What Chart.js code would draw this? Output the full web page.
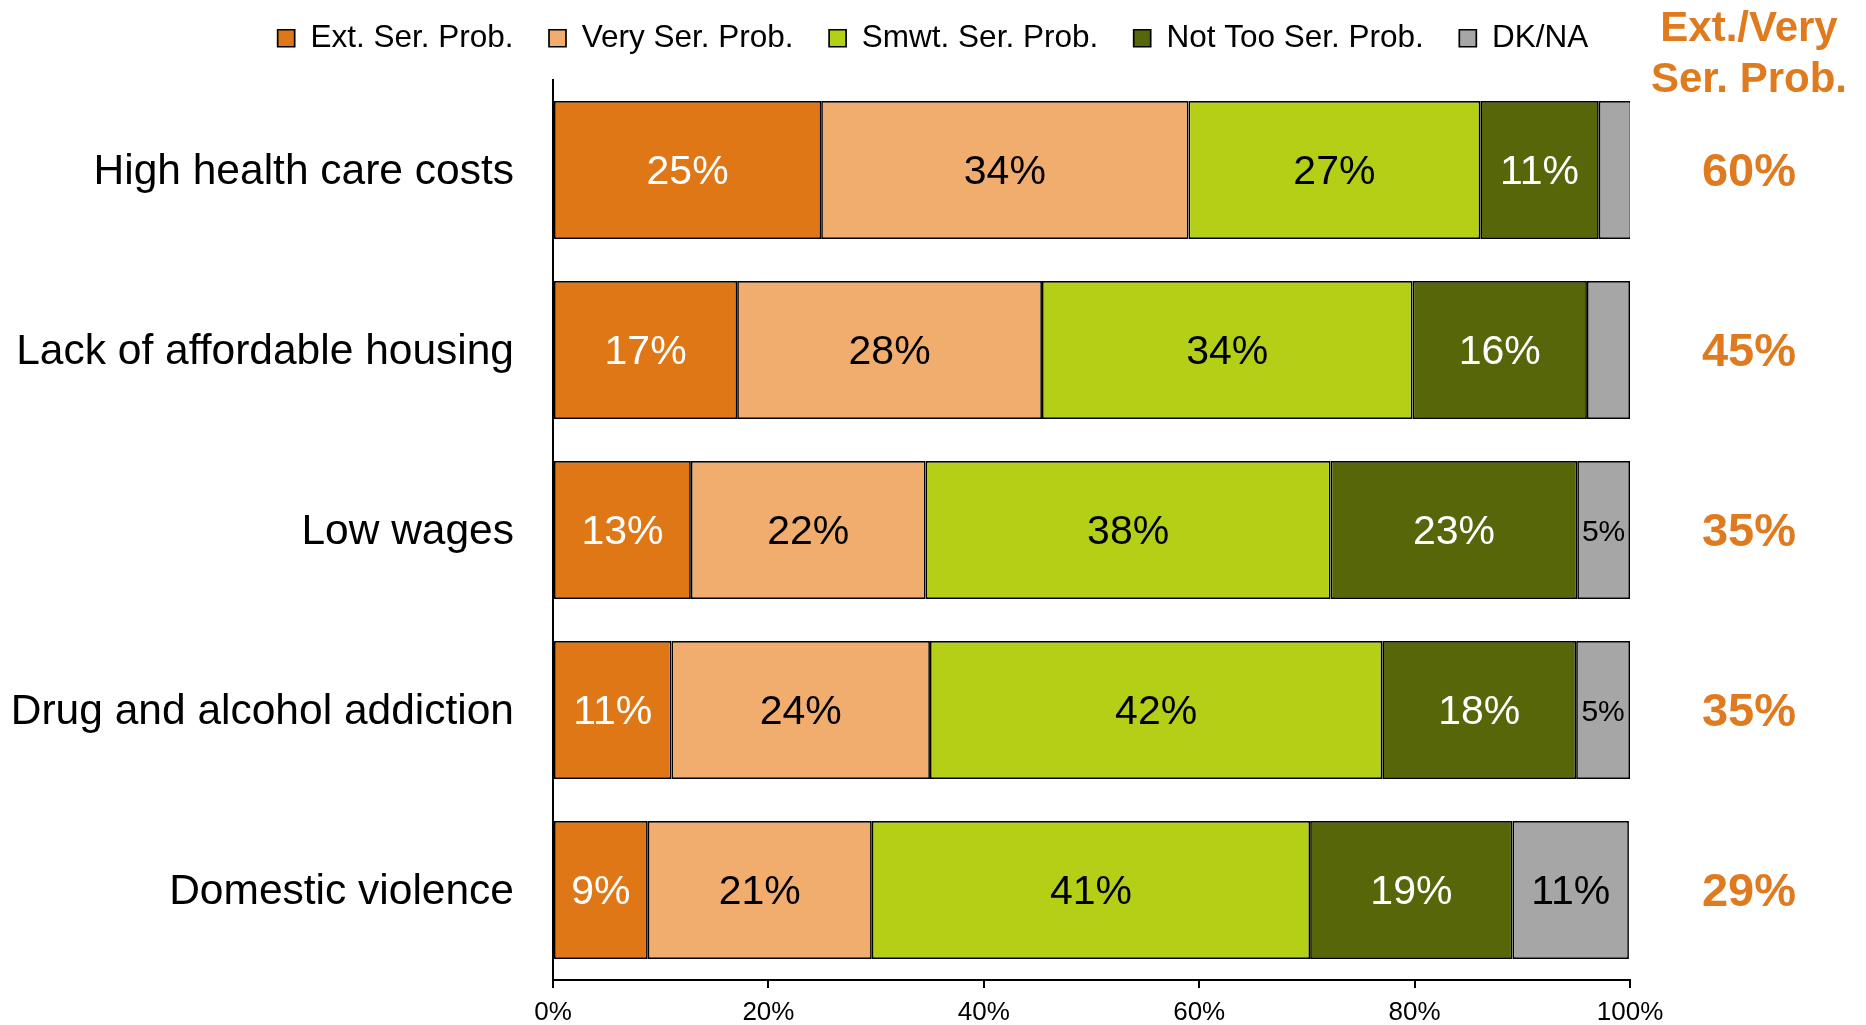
<!DOCTYPE html>
<html><head><meta charset="utf-8">
<script src="https://cdn.jsdelivr.net/npm/chart.js@4.4.1/dist/chart.umd.min.js"></script>
<style>html,body{margin:0;padding:0;background:#fff;} canvas{display:block;}</style>
</head><body>
<canvas id="c" width="1866" height="1025"></canvas>
<script>
const categories = ['High health care costs','Lack of affordable housing','Low wages','Drug and alcohol addiction','Domestic violence'];
const seriesNames = ['Ext. Ser. Prob.','Very Ser. Prob.','Smwt. Ser. Prob.','Not Too Ser. Prob.','DK/NA'];
const extSer    = [24.9, 17.1, 12.8, 11.0, 8.8];
const verySer   = [34.1, 28.3, 21.8, 24.0, 20.8];
const smwtSer   = [27.1, 34.4, 37.6, 42.0, 40.7];
const notTooSer = [11.0, 16.2, 22.9, 18.0, 18.8];
const dkNa      = [3.0, 4.0, 4.9, 5.0, 10.8];
const extVeryTotals = ['60%','45%','35%','35%','29%'];
const extVeryHeader = ['Ext./Very','Ser. Prob.'];
const xTickValues = [0, 20, 40, 60, 80, 100];

const FONT = '"Liberation Sans", Arial, sans-serif';
const ORANGE = '#E07A1F';
const fillColors = ['#E07716','#F0AD6E','#B5CF17','#58660A','#A6A6A6'];
const labelColors = ['#ffffff','#000000','#000000','#ffffff','#000000'];
const seriesValues = [extSer, verySer, smwtSer, notTooSer, dkNa];

const datasets = seriesNames.map((name, i) => ({
  label: name,
  data: seriesValues[i],
  backgroundColor: fillColors[i],
  borderColor: '#000',
  borderWidth: 1.7,
  borderSkipped: false,
  categoryPercentage: 1.0,
  barPercentage: 0.767
}));

const annotatePlugin = {
  id: 'annotate',
  afterDatasetsDraw(chart) {
    const ctx = chart.ctx;
    chart.data.datasets.forEach((ds, di) => {
      const meta = chart.getDatasetMeta(di);
      meta.data.forEach((bar, i) => {
        const v = ds.data[i];
        if (v < 4.5) return;
        const p = bar.getProps(['x', 'base', 'y'], true);
        ctx.save();
        ctx.font = (v < 8 ? '30px ' : '41px ') + FONT;
        ctx.fillStyle = labelColors[di];
        ctx.textAlign = 'center';
        ctx.textBaseline = 'middle';
        ctx.fillText(Math.round(v) + '%', (p.x + p.base) / 2, p.y + 3);
        ctx.restore();
      });
    });
    const yS = chart.scales.y;
    const cx = chart.chartArea.right + 119;
    ctx.save();
    ctx.fillStyle = ORANGE;
    ctx.textAlign = 'center';
    ctx.textBaseline = 'middle';
    ctx.font = 'bold 47px ' + FONT;
    extVeryTotals.forEach((t, i) => ctx.fillText(t, cx, yS.getPixelForValue(i) + 3));
    ctx.font = 'bold 42px ' + FONT;
    ctx.fillText(extVeryHeader[0], cx, 29);
    ctx.fillText(extVeryHeader[1], cx, 80);
    ctx.restore();
  }
};

new Chart(document.getElementById('c'), {
  type: 'bar',
  data: { labels: categories, datasets },
  plugins: [annotatePlugin],
  options: {
    indexAxis: 'y',
    responsive: false,
    devicePixelRatio: 1,
    animation: false,
    layout: { padding: { top: -13, left: 0, right: 0, bottom: 0 } },
    plugins: {
      tooltip: { enabled: false },
      legend: {
        position: 'top',
        align: 'center',
        labels: {
          color: '#000',
          font: { family: FONT, size: 31.5 },
          boxWidth: 17,
          boxHeight: 17,
          padding: 35.5
        }
      }
    },
    scales: {
      x: {
        type: 'linear',
        stacked: true,
        min: 0,
        max: 100,
        afterBuildTicks: s => { s.ticks = xTickValues.map(v => ({ value: v })); },
        afterFit: s => { s.height = 45; },
        ticks: {
          color: '#000',
          font: { family: FONT, size: 26 },
          padding: 9,
          callback: v => v + '%'
        },
        grid: { drawOnChartArea: false, drawTicks: true, tickLength: 8, color: '#000', lineWidth: 2 },
        border: { display: true, color: '#000', width: 2 }
      },
      y: {
        type: 'category',
        stacked: true,
        afterFit: s => { s.width = 553; s.paddingTop = 0; s.paddingBottom = 0; },
        ticks: {
          color: '#000',
          font: { family: FONT, size: 42.5 },
          padding: 39,
          labelOffset: 2
        },
        grid: { display: false, drawTicks: false },
        border: { display: true, color: '#000', width: 2 }
      },
      xTop: {
        type: 'linear',
        axis: 'x',
        position: 'top',
        display: true,
        afterFit: s => { s.height = 16; },
        ticks: { display: false },
        grid: { display: false, drawTicks: false },
        border: { display: false }
      },
      yRight: {
        type: 'linear',
        axis: 'y',
        position: 'right',
        display: true,
        afterFit: s => { s.width = 236; s.paddingTop = 0; s.paddingBottom = 0; },
        ticks: { display: false },
        grid: { display: false, drawTicks: false },
        border: { display: false }
      }
    }
  }
});
</script>
</body></html>
